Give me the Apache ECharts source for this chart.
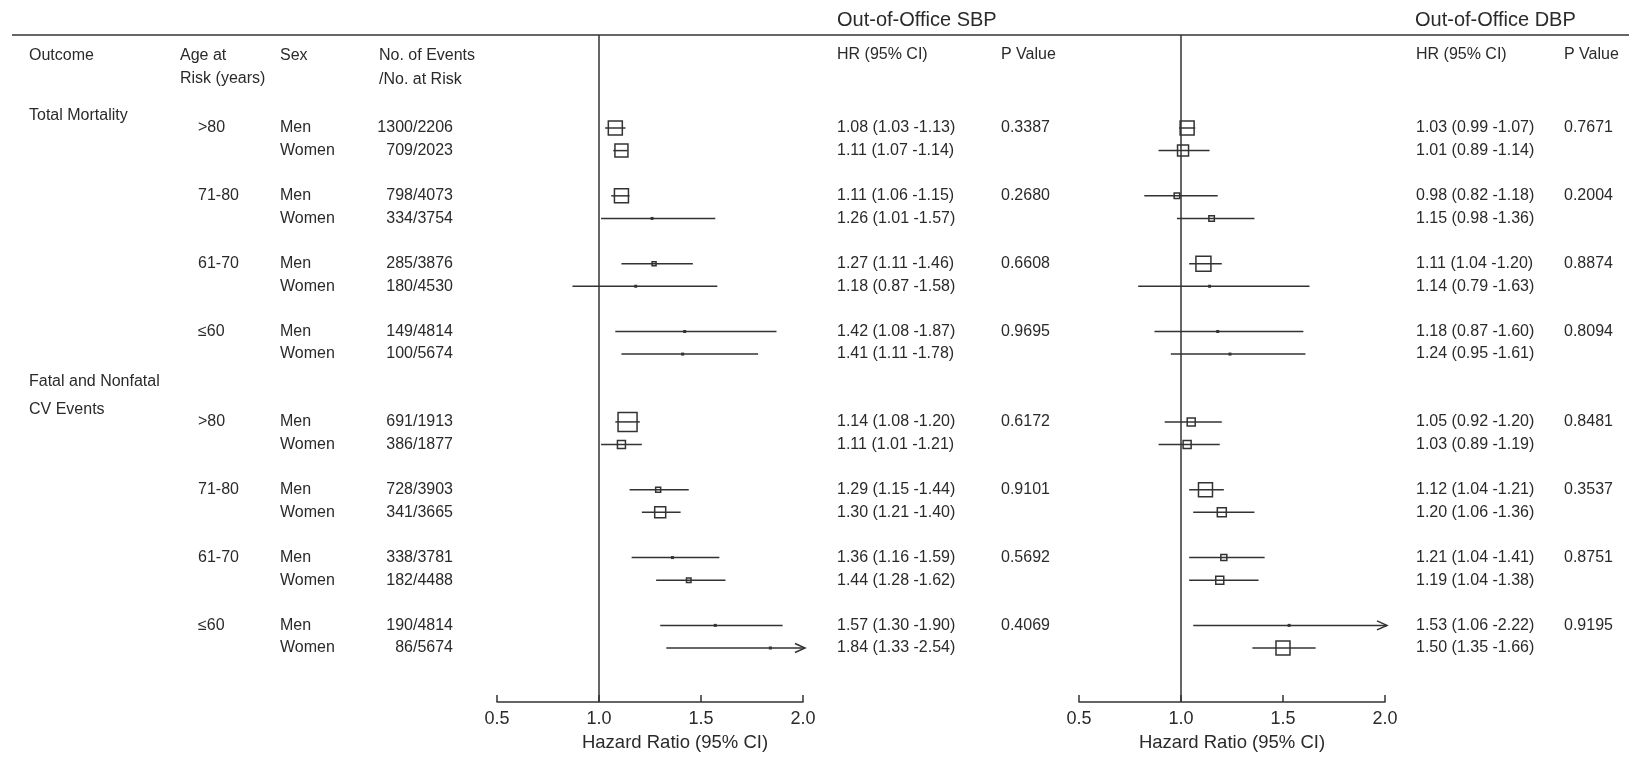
<!DOCTYPE html>
<html>
<head>
<meta charset="utf-8">
<script src="https://cdn.jsdelivr.net/npm/echarts@6/dist/echarts.min.js"></script>
<style>
html,body{margin:0;padding:0;background:#fff;}
#chart{width:1629px;height:759px;}
</style>
</head>
<body>
<div id="chart"></div>
<script>
// ---------------- data ----------------
const outcomeLabels = [['Total Mortality'], ['Fatal and Nonfatal', 'CV Events']];
const ageGroups = ['>80', '71-80', '61-70', '≤60'];
const sexes = ['Men', 'Women'];
const events = ['1300/2206','709/2023','798/4073','334/3754','285/3876','180/4530','149/4814','100/5674',
                '691/1913','386/1877','728/3903','341/3665','338/3781','182/4488','190/4814','86/5674'];

const sbpHR = [1.08,1.11,1.11,1.26,1.27,1.18,1.42,1.41,1.14,1.11,1.29,1.30,1.36,1.44,1.57,1.84];
const sbpLo = [1.03,1.07,1.06,1.01,1.11,0.87,1.08,1.11,1.08,1.01,1.15,1.21,1.16,1.28,1.30,1.33];
const sbpHi = [1.13,1.14,1.15,1.57,1.46,1.58,1.87,1.78,1.20,1.21,1.44,1.40,1.59,1.62,1.90,2.54];
const sbpP  = ['0.3387','0.2680','0.6608','0.9695','0.6172','0.9101','0.5692','0.4069'];
const sbpWeight = [14,13,14,2,4,2,2,2,19,8,5,11,3,4.5,2,3];

const dbpHR = [1.03,1.01,0.98,1.15,1.11,1.14,1.18,1.24,1.05,1.03,1.12,1.20,1.21,1.19,1.53,1.50];
const dbpLo = [0.99,0.89,0.82,0.98,1.04,0.79,0.87,0.95,0.92,0.89,1.04,1.06,1.04,1.04,1.06,1.35];
const dbpHi = [1.07,1.14,1.18,1.36,1.20,1.63,1.60,1.61,1.20,1.19,1.21,1.36,1.41,1.38,2.22,1.66];
const dbpP  = ['0.7671','0.2004','0.8874','0.8094','0.8481','0.3537','0.8751','0.9195'];
const dbpWeight = [14,11,5.5,5.5,15,2,2,2.5,8,8,14,9,6,8,2,14];

const xTicks = [0.5, 1.0, 1.5, 2.0];
const panelTitles = ['Out-of-Office SBP', 'Out-of-Office DBP'];
const axisTitle = 'Hazard Ratio (95% CI)';

// ---------------- styling ----------------
const FONT = "'Liberation Sans', Arial, sans-serif";
const INK = '#2a2a2a';
const LINE = '#333';
const BOX_SCALE = 1;

// row -> slot on the (hidden) vertical value axis, derived from table structure
const nAges = ageGroups.length, nSex = sexes.length;
function slotOf(r) {
  const g = Math.floor(r / (nAges * nSex));
  const a = Math.floor((r % (nAges * nSex)) / nSex);
  const s = r % nSex;
  return g * (nAges * 3 + 1) + a * 3 + s;
}
const nRows = events.length;

function buildData(hr, lo, hi, wt) {
  return hr.map((v, i) => [v, lo[i], hi[i], slotOf(i), wt[i]]);
}

function renderItem(params, api) {
  const hr = api.value(0), lo = api.value(1), hi = api.value(2), slot = api.value(3), w = api.value(4);
  const xmax = xTicks[xTicks.length - 1];
  const y = api.coord([1, slot])[1];
  const clipped = hi > xmax;
  const x0 = api.coord([lo, slot])[0];
  const x1 = api.coord([Math.min(hi, xmax), slot])[0] + (clipped ? 2 : 0);
  const xc = api.coord([hr, slot])[0];
  const children = [{
    type: 'line', shape: {x1: x0, y1: y, x2: x1, y2: y},
    style: {stroke: LINE, lineWidth: 1.5}
  }];
  const s = w * BOX_SCALE;
  if (s <= 3) {
    children.push({type: 'rect', shape: {x: xc - 1.5, y: y - 1.5, width: 3, height: 3}, style: {fill: LINE}});
  } else {
    children.push({type: 'rect', shape: {x: xc - s / 2, y: y - s / 2, width: s, height: s},
      style: {fill: 'none', stroke: LINE, lineWidth: 1.5}});
  }
  if (clipped) {
    children.push({type: 'polyline', shape: {points: [[x1 - 10, y - 4.5], [x1, y], [x1 - 10, y + 4.5]]},
      style: {fill: 'none', stroke: LINE, lineWidth: 1.5}});
  }
  return {type: 'group', children};
}

function xAxisCfg(gi, namePad) {
  return {
    gridIndex: gi, type: 'value',
    min: xTicks[0], max: xTicks[xTicks.length - 1], interval: xTicks[1] - xTicks[0],
    axisLine: {show: true, onZero: false, lineStyle: {color: LINE, width: 1.5}},
    axisTick: {show: true, inside: true, length: 7, lineStyle: {color: LINE, width: 1.5}},
    axisLabel: {fontSize: 18, color: INK, fontFamily: FONT, margin: 8,
      showMinLabel: true, showMaxLabel: true, formatter: v => v.toFixed(1)},
    splitLine: {show: false},
    name: axisTitle, nameLocation: 'middle', nameGap: 31,
    nameTextStyle: {fontSize: 18.5, color: INK, fontFamily: FONT, padding: namePad}
  };
}
function yAxisCfg(gi) {
  return {gridIndex: gi, type: 'value', inverse: true, min: -4.1135, max: 25.389, show: false};
}
function seriesCfg(gi, data) {
  return {
    type: 'custom', xAxisIndex: gi, yAxisIndex: gi, clip: false,
    renderItem, data, encode: {x: 0, y: 3}, silent: true,
    markLine: {symbol: 'none', silent: true, label: {show: false},
      lineStyle: {color: LINE, width: 1.5, type: 'solid'}, data: [{xAxis: 1}]}
  };
}

const chart = echarts.init(document.getElementById('chart'), null, {renderer: 'canvas'});
chart.setOption({
  animation: false,
  backgroundColor: '#fff',
  grid: [
    {left: 497, top: 35, width: 306, height: 667},
    {left: 1079, top: 35, width: 306, height: 667}
  ],
  xAxis: [xAxisCfg(0, [0, 0, 0, 50]), xAxisCfg(1, [0, 0, 0, 0])],
  yAxis: [yAxisCfg(0), yAxisCfg(1)],
  series: [
    seriesCfg(0, buildData(sbpHR, sbpLo, sbpHi, sbpWeight)),
    seriesCfg(1, buildData(dbpHR, dbpLo, dbpHi, dbpWeight))
  ]
});

// ---------------- table text ----------------
const rowY = r => chart.convertToPixel({yAxisIndex: 0}, slotOf(r));
const g = [];
function txt(text, x, y, opt) {
  opt = opt || {};
  g.push({type: 'text', x, y, silent: true, style: {
    text, fill: INK, font: (opt.size || 16) + 'px ' + FONT,
    align: opt.align || 'left', verticalAlign: 'middle'}});
}
// top rule
g.push({type: 'line', shape: {x1: 12, y1: 35, x2: 1629, y2: 35}, style: {stroke: LINE, lineWidth: 1.5}});
// panel titles & headers
txt(panelTitles[0], 837, 20, {size: 20});
txt(panelTitles[1], 1415, 20, {size: 20});
txt('Outcome', 29, 56);
txt('Age at', 180, 56); txt('Risk (years)', 180, 79);
txt('Sex', 280, 56);
txt('No. of Events', 379, 56); txt('/No. at Risk', 379, 80);
txt('HR (95% CI)', 837, 55); txt('P Value', 1001, 55);
txt('HR (95% CI)', 1416, 55); txt('P Value', 1564, 55);

const fmt = (h, l, u) => h.toFixed(2) + ' (' + l.toFixed(2) + ' -' + u.toFixed(2) + ')';
for (let r = 0; r < nRows; r++) {
  const y = rowY(r);
  const gi = Math.floor(r / (nAges * nSex));
  const ai = Math.floor((r % (nAges * nSex)) / nSex);
  const si = r % nSex;
  if (r % (nAges * nSex) === 0) {
    const lines = outcomeLabels[gi];
    lines.forEach((ln, k) => txt(ln, 29, y - 12 - (lines.length - 1 - k) * 28));
  }
  if (si === 0) {
    txt(ageGroups[ai], 198, y);
    const pi = Math.floor(r / nSex);
    txt(sbpP[pi], 1001, y);
    txt(dbpP[pi], 1564, y);
  }
  txt(sexes[si], 280, y);
  txt(events[r], 453, y, {align: 'right'});
  txt(fmt(sbpHR[r], sbpLo[r], sbpHi[r]), 837, y);
  txt(fmt(dbpHR[r], dbpLo[r], dbpHi[r]), 1416, y);
}
chart.setOption({graphic: g});
</script>
</body>
</html>
